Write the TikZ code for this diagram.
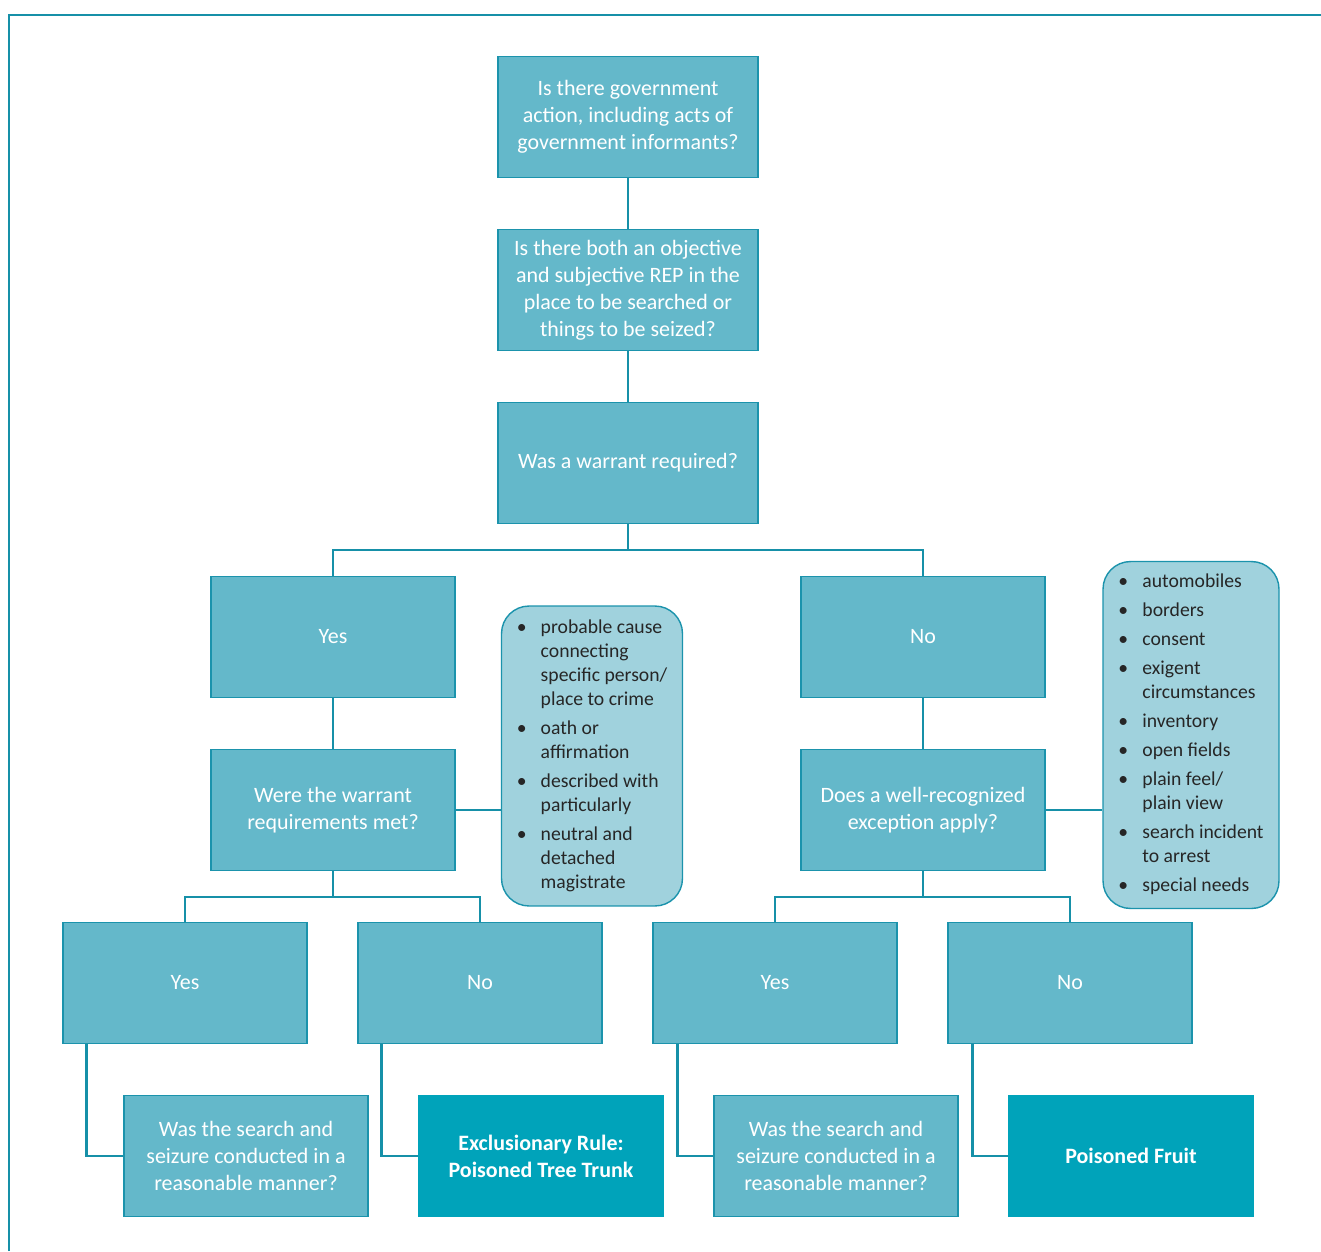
\documentclass[tikz,border=0pt]{standalone}
\usepackage{fontspec}
\setmainfont{Carlito}
\usepackage{tikz}

\definecolor{qfill}{HTML}{64B8CA}
\definecolor{qline}{HTML}{1B93AC}
\definecolor{rulefill}{HTML}{00A3BA}
\definecolor{listfill}{HTML}{A0D2DD}
\definecolor{wirecol}{HTML}{1690A8}
\newcommand{\blt}{\makebox[0.48cm][l]{\textbullet}}

\begin{document}
\begin{tikzpicture}[x=0.02cm,y=-0.02cm,
    qbox/.style={draw=qline,fill=qfill,line width=0.8pt,minimum width=4.88cm,minimum height=2.42cm,
      text=white,align=center,inner sep=2pt,font=\fontsize{12.5}{15.4}\selectfont},
    topbox/.style={qbox,minimum width=5.2cm},
    rulebox/.style={qbox,fill=rulefill,draw=rulefill,font=\bfseries\fontsize{12.5}{15.4}\selectfont},
    listbox/.style={draw=qline,fill=listfill,line width=0.8pt,rounded corners=0.55cm,
      text=black!85,align=left,inner sep=0pt,font=\fontsize{11.2}{13.66}\selectfont},
    wire/.style={draw=wirecol,line width=1.4pt}]
                        \useasboundingbox (0,0) rectangle (1321,1251);
                        \draw[wire,line width=1.1pt] (9,1251) -- (9,15) -- (1321,15);

                        % questions down the middle
                        \node[topbox] (q1) at (628,117) {Is there government\\ action, including acts of\\ government informants?};
                        \node[topbox] (q2) at (628,290) {Is there both an objective\\ and subjective REP in the\\ place to be searched or\\ things to be seized?};
                        \node[topbox] (q3) at (628,463) {Was a warrant required?};

                        % first split
                        \node[qbox] (yes1) at (333,637) {Yes};
                        \node[qbox] (no1) at (923,637) {No};
                        \node[qbox] (warrant) at (333,810) {Were the warrant\\ requirements met?};
                        \node[qbox] (exception) at (923,810) {Does a well-recognized\\ exception apply?};

                        \node[listbox,minimum width=3.62cm,minimum height=6cm] (list1) at (592,756) {%
                            \begin{tabular}{@{}l@{}l@{}}
                            \blt & probable cause\\
                                 & connecting\\
                                 & specific person/\\
                                 & place to crime\\[0.1cm]
                            \blt & oath or\\
                                 & affirmation\\[0.1cm]
                            \blt & described with\\
                                 & particularly\\[0.1cm]
                            \blt & neutral and\\
                                 & detached\\
                                 & magistrate
                            \end{tabular}};
                        \node[listbox,minimum width=3.52cm,minimum height=6.94cm] (list2) at (1191,735) {%
                            \begin{tabular}{@{}l@{}l@{}}
                            \blt & automobiles\\[0.1cm]
                            \blt & borders\\[0.1cm]
                            \blt & consent\\[0.1cm]
                            \blt & exigent\\
                                 & circumstances\\[0.1cm]
                            \blt & inventory\\[0.1cm]
                            \blt & open fields\\[0.1cm]
                            \blt & plain feel/\\
                                 & plain view\\[0.1cm]
                            \blt & search incident\\
                                 & to arrest\\[0.1cm]
                            \blt & special needs
                            \end{tabular}};

                        % second split
                        \node[qbox] (yes2) at (185,983) {Yes};
                        \node[qbox] (no2) at (480,983) {No};
                        \node[qbox] (yes3) at (775,983) {Yes};
                        \node[qbox] (no3) at (1070,983) {No};

                        % outcomes
                        \node[qbox] (reason1) at (246,1156) {Was the search and\\ seizure conducted in a\\ reasonable manner?};
                        \node[rulebox] (trunk) at (541,1156) {Exclusionary Rule:\\ Poisoned Tree Trunk};
                        \node[qbox] (reason2) at (836,1156) {Was the search and\\ seizure conducted in a\\ reasonable manner?};
                        \node[rulebox] (fruit) at (1131,1156) {Poisoned Fruit};

                        \coordinate (s1) at (628,550);
                        \coordinate (s2) at (333,897);
                        \coordinate (s3) at (923,897);

                        \draw[wire] (q1.south) -- (q2.north);
                        \draw[wire] (q2.south) -- (q3.north);
                        \draw[wire] (q3.south) -- (s1) (s1) -| (yes1.north) (s1) -| (no1.north);
                        \draw[wire] (yes1.south) -- (warrant.north);
                        \draw[wire] (no1.south) -- (exception.north);
                        \draw[wire] (warrant.east) -- (warrant.east -| list1.west);
                        \draw[wire] (exception.east) -- (exception.east -| list2.west);
                        \draw[wire] (warrant.south) -- (s2) (s2) -| (yes2.north) (s2) -| (no2.north);
                        \draw[wire] (exception.south) -- (s3) (s3) -| (yes3.north) (s3) -| (no3.north);
                        \draw[wire] ([xshift=0.48cm]yes2.south west) |- (reason1.west);
                        \draw[wire] ([xshift=0.48cm]no2.south west) |- (trunk.west);
                        \draw[wire] ([xshift=0.5cm]yes3.south west) |- (reason2.west);
                        \draw[wire] ([xshift=0.5cm]no3.south west) |- (fruit.west);
                    \end{tikzpicture}
\end{document}
